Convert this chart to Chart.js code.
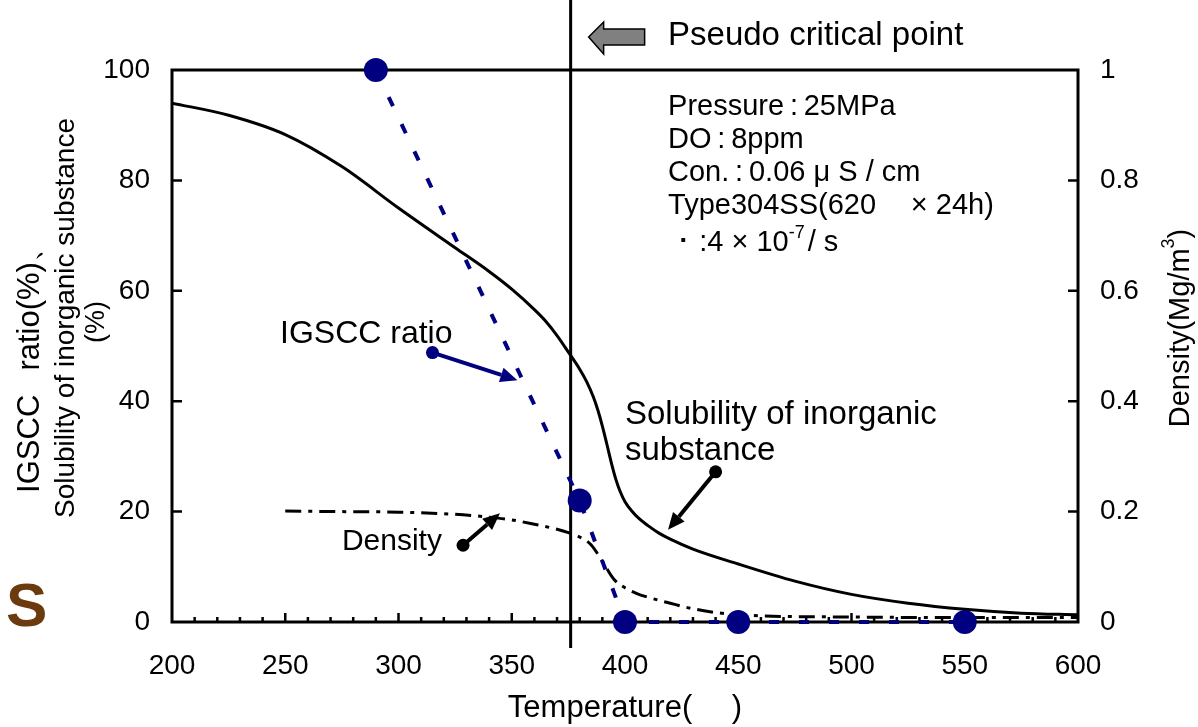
<!DOCTYPE html>
<html>
<head>
<meta charset="utf-8">
<script src="https://cdn.jsdelivr.net/npm/chart.js@4.4.1/dist/chart.umd.min.js"></script>
<style>
  html, body { margin: 0; padding: 0; background: #fff; }
</style>
</head>
<body>
<canvas id="chart" width="1198" height="727"></canvas>
<script>
// Values (temperature in deg C)
const solubilityTemp = [200, 225, 250, 275, 300, 325, 340, 350, 360, 365, 370, 375, 380, 383, 386, 388, 390, 392, 394, 396, 398, 400, 403, 406, 410, 415, 420, 430, 450, 475, 500, 525, 550, 575, 600];
const solubilityPct = [94, 91.8, 88.3, 82.5, 75, 67.8, 63.5, 60.3, 56.6, 54.5, 51.9, 48.9, 45.8, 43.6, 40.8, 38.4, 35.5, 32.2, 28.8, 25.8, 23.5, 21.8, 20.1, 18.8, 17.5, 16.1, 15, 13.2, 10.5, 7.4, 5, 3.4, 2.3, 1.6, 1.3];
const densityTemp = [250, 275, 300, 325, 340, 350, 360, 370, 375, 380, 385, 390, 395, 400, 405, 410, 420, 430, 450, 500, 550, 600];
const densityVal = [0.201, 0.2, 0.199, 0.195, 0.19, 0.185, 0.177, 0.168, 0.162, 0.154, 0.14, 0.11, 0.078, 0.062, 0.052, 0.045, 0.034, 0.024, 0.013, 0.009, 0.008, 0.008];
const igsccTemp = [290, 380, 400, 450, 550];
const igsccPct = [100, 22, 0, 0, 0];

const tempTicks = [200, 250, 300, 350, 400, 450, 500, 550, 600];
const pctTicks = [0, 20, 40, 60, 80, 100];
const densityTicks = [0, 0.2, 0.4, 0.6, 0.8, 1];
const pseudoCriticalTemp = 376;

const FONT = "'Liberation Sans', Arial, sans-serif";
const NAVY = '#000080';

const toPoints = (xs, ys) => xs.map((t, i) => ({ x: t, y: ys[i] }));

// dot + line + filled head
function pointer(ctx, x0, y0, x1, y1, color) {
    const ang = Math.atan2(y1 - y0, x1 - x0);
    const head = 17, half = 7.5;
    const bx = x1 - head * Math.cos(ang), by = y1 - head * Math.sin(ang);
    ctx.fillStyle = color;
    ctx.strokeStyle = color;
    ctx.lineWidth = 4;
    ctx.beginPath();
    ctx.arc(x0, y0, 6.5, 0, Math.PI * 2);
    ctx.fill();
    ctx.beginPath();
    ctx.moveTo(x0, y0);
    ctx.lineTo(bx, by);
    ctx.stroke();
    ctx.beginPath();
    ctx.moveTo(x1, y1);
    ctx.lineTo(bx + half * Math.sin(ang), by - half * Math.cos(ang));
    ctx.lineTo(bx - half * Math.sin(ang), by + half * Math.cos(ang));
    ctx.closePath();
    ctx.fill();
}

function rotatedText(ctx, text, cx, cy, size) {
    ctx.save();
    ctx.translate(cx, cy);
    ctx.rotate(-Math.PI / 2);
    ctx.font = size + 'px ' + FONT;
    ctx.textAlign = 'center';
    ctx.textBaseline = 'middle';
    ctx.fillText(text, 0, 0);
    ctx.restore();
}

const decor = {
    id: 'decor',
    beforeDatasetsDraw(chart) {
        const { ctx, chartArea: a, scales: { x, y, y1 } } = chart;
        ctx.save();
        ctx.strokeStyle = '#000';
        ctx.lineWidth = 3;
        ctx.strokeRect(a.left, a.top, a.right - a.left, a.bottom - a.top);

        // tick marks point into the plot
        ctx.lineWidth = 2.5;
        ctx.beginPath();
        for (let t = x.min + 10; t < x.max; t += 10) {
            const px = x.getPixelForValue(t);
            const len = t % 50 === 0 ? 9 : 5;
            ctx.moveTo(px, a.bottom);
            ctx.lineTo(px, a.bottom - len);
        }
        pctTicks.slice(1, -1).forEach(v => {
            const py = y.getPixelForValue(v);
            ctx.moveTo(a.left, py);
            ctx.lineTo(a.left + 10, py);
        });
        densityTicks.slice(1, -1).forEach(v => {
            const py = y1.getPixelForValue(v);
            ctx.moveTo(a.right, py);
            ctx.lineTo(a.right - 10, py);
        });
        ctx.stroke();

        // pseudo critical temperature
        const vx = x.getPixelForValue(pseudoCriticalTemp);
        ctx.lineWidth = 3;
        ctx.beginPath();
        ctx.moveTo(vx, 0);
        ctx.lineTo(vx, a.bottom + 26);
        ctx.stroke();
        ctx.restore();
    },
    afterDatasetsDraw(chart) {
        const { ctx, chartArea: a, scales: { x, y } } = chart;
        const X = t => x.getPixelForValue(t);
        const Y = v => y.getPixelForValue(v);
        ctx.save();
        ctx.fillStyle = '#000';
        ctx.textBaseline = 'alphabetic';
        ctx.textAlign = 'left';

        // grey block arrow + label
        const tipX = X(pseudoCriticalTemp) + 18, cy = 37;
        ctx.beginPath();
        ctx.moveTo(tipX, cy);
        ctx.lineTo(tipX + 15, cy - 15);
        ctx.lineTo(tipX + 15, cy - 8);
        ctx.lineTo(tipX + 56, cy - 8);
        ctx.lineTo(tipX + 56, cy + 8);
        ctx.lineTo(tipX + 15, cy + 8);
        ctx.lineTo(tipX + 15, cy + 17);
        ctx.closePath();
        ctx.fillStyle = '#808080';
        ctx.fill();
        ctx.lineWidth = 1.5;
        ctx.strokeStyle = '#000';
        ctx.stroke();
        ctx.fillStyle = '#000';
        ctx.font = '33px ' + FONT;
        ctx.fillText('Pseudo critical point', X(419), 45);

        // test conditions
        ctx.font = '29px ' + FONT;
        const cx = X(419);
        ctx.fillText('Pressure\u2009:\u200925MPa', cx, Y(91.8));
        ctx.fillText('DO\u2009:\u20098ppm', cx, Y(85.9));
        ctx.fillText('Con.\u2009:\u20090.06 \u03BC S / cm', cx, Y(79.9));
        ctx.fillText('Type304SS(620\u3000\u2009\u00D7 24h)', cx, Y(73.9));
        const base5 = Y(67.2);
        let lx = cx;
        const part1 = ' \uFF65 :4 \u00D7 10';
        ctx.fillText(part1, lx, base5);
        lx += ctx.measureText(part1).width;
        ctx.font = '18px ' + FONT;
        ctx.fillText('-7', lx, base5 - 13);
        lx += ctx.measureText('-7').width + 3;
        ctx.font = '29px ' + FONT;
        ctx.fillText('/ s', lx, base5);

        // series labels
        ctx.font = '32px ' + FONT;
        ctx.fillText('IGSCC ratio', X(247.7), Y(50.5));
        ctx.font = '33px ' + FONT;
        ctx.fillText('Solubility of inorganic', X(400), Y(35.9));
        ctx.fillText('substance', X(400), Y(29.3));
        ctx.font = '30px ' + FONT;
        ctx.fillText('Density', X(275), Y(13.0));

        pointer(ctx, X(315), Y(48.8), X(352.5), Y(43.8), NAVY);
        pointer(ctx, X(440), Y(27.2), X(419), Y(16.7), '#000');
        pointer(ctx, X(328.5), Y(13.9), X(344.8), Y(19.7), '#000');

        // axis titles
        ctx.fillStyle = '#000';
        rotatedText(ctx, 'IGSCC\u2002 ratio(%)\u3001', 30, 362, 31);
        rotatedText(ctx, 'Solubility of inorganic substance', 66, 318, 28);
        rotatedText(ctx, '(%)', 97, 322, 27);

        ctx.font = '31px ' + FONT;
        ctx.textAlign = 'center';
        ctx.fillText('Temperature(\u3000 )', (a.left + a.right) / 2, 717);

        // right title with superscript
        ctx.save();
        ctx.translate(1181, 328);
        ctx.rotate(-Math.PI / 2);
        ctx.textAlign = 'left';
        ctx.textBaseline = 'middle';
        ctx.font = '29px ' + FONT;
        const r1 = 'Density(Mg/m', r3 = ')';
        const w1 = ctx.measureText(r1).width, w3 = ctx.measureText(r3).width;
        ctx.font = '18px ' + FONT;
        const w2 = ctx.measureText('3').width;
        let sx = -(w1 + w2 + w3) / 2;
        ctx.font = '29px ' + FONT;
        ctx.fillText(r1, sx, 0);
        sx += w1;
        ctx.font = '18px ' + FONT;
        ctx.fillText('3', sx, -12);
        sx += w2;
        ctx.font = '29px ' + FONT;
        ctx.fillText(r3, sx, 0);
        ctx.restore();

        // panel letter
        ctx.textAlign = 'left';
        ctx.fillStyle = '#6B3A0E';
        ctx.font = 'bold 62px ' + FONT;
        ctx.fillText('S', 6, 626);
        ctx.restore();
    }
};

const tickFont = { family: FONT, size: 28 };

new Chart(document.getElementById('chart'), {
    type: 'scatter',
    data: {
        datasets: [
            {
                label: 'IGSCC ratio',
                data: toPoints(igsccTemp, igsccPct),
                showLine: true,
                borderColor: NAVY,
                borderWidth: 4,
                borderDash: [10, 20],
                pointRadius: 12,
                pointBackgroundColor: NAVY,
                pointBorderWidth: 0,
                clip: false,
                yAxisID: 'y'
            },
            {
                label: 'Solubility of inorganic substance',
                data: toPoints(solubilityTemp, solubilityPct),
                showLine: true,
                borderColor: '#000',
                borderWidth: 3,
                pointRadius: 0,
                cubicInterpolationMode: 'monotone',
                yAxisID: 'y'
            },
            {
                label: 'Density',
                data: toPoints(densityTemp, densityVal),
                showLine: true,
                borderColor: '#000',
                borderWidth: 3,
                borderDash: [16, 7, 4, 7],
                pointRadius: 0,
                cubicInterpolationMode: 'monotone',
                yAxisID: 'y1'
            }
        ]
    },
    options: {
        responsive: false,
        animation: false,
        layout: { padding: { top: 70, left: 0, right: 0, bottom: 0 } },
        plugins: { legend: { display: false }, tooltip: { enabled: false } },
        scales: {
            x: {
                type: 'linear',
                min: 200,
                max: 600,
                afterBuildTicks: s => { s.ticks = tempTicks.map(v => ({ value: v })); },
                afterFit: s => { s.height = 105; },
                grid: { display: false, drawTicks: false },
                border: { display: false },
                ticks: { color: '#000', font: tickFont, padding: 27, maxRotation: 0 }
            },
            y: {
                position: 'left',
                min: 0,
                max: 100,
                afterBuildTicks: s => { s.ticks = pctTicks.map(v => ({ value: v })); },
                afterFit: s => { s.width = 172; },
                grid: { display: false, drawTicks: false },
                border: { display: false },
                ticks: { color: '#000', font: tickFont, padding: 22 }
            },
            y1: {
                position: 'right',
                min: 0,
                max: 1,
                afterBuildTicks: s => { s.ticks = densityTicks.map(v => ({ value: v })); },
                afterFit: s => { s.width = 120; },
                grid: { display: false, drawTicks: false },
                border: { display: false },
                ticks: {
                    color: '#000',
                    font: tickFont,
                    padding: 22,
                    callback: v => String(Math.round(v * 10) / 10)
                }
            }
        }
    },
    plugins: [decor]
});
</script>
</body>
</html>
